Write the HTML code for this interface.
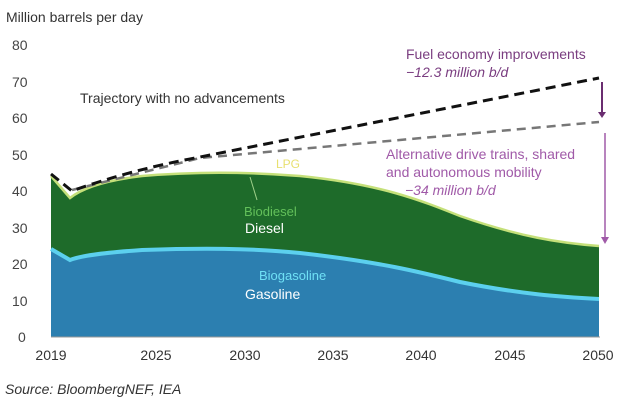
<!DOCTYPE html><html><head><style>body{margin:0;background:#fff}svg{font-family:"Liberation Sans",sans-serif}</style></head><body>
<svg width="625" height="407" viewBox="0 0 625 407">
<text x="6" y="22" font-size="14" fill="#333">Million barrels per day</text>
<g font-size="14" fill="#444" text-anchor="start">
<text x="12" y="50">80</text><text x="12" y="87">70</text><text x="12" y="123">60</text><text x="12" y="160">50</text><text x="12" y="196">40</text><text x="12" y="233">30</text><text x="12" y="269">20</text><text x="12" y="306">10</text><text x="18" y="342">0</text></g>
<path d="M51,176 L70,198 C80,190 100,181 142,176 C200,171 250,172 300,176 C380,184 420,200 460,216 C520,237 560,243 599,246 L599,337 L51,337Z" fill="#1e6b2a"/>
<path d="M51,176 L70,198 C80,190 100,181 142,176 C200,171 250,172 300,176 C380,184 420,200 460,216 C520,237 560,243 599,246" fill="none" stroke="#c5e07a" stroke-width="2.5"/>
<path d="M51,249 L70,260 C80,256 100,253 142,250 C200,248 250,248 300,253 C380,262 420,272 460,282 C520,294 560,297 599,299 L599,337 L51,337Z" fill="#2c7fb0"/>
<path d="M51,249 L70,260 C80,256 100,253 142,250 C200,248 250,248 300,253 C380,262 420,272 460,282 C520,294 560,297 599,299" fill="none" stroke="#5cd0ee" stroke-width="4"/>
<line x1="51" y1="337" x2="600" y2="337" stroke="#999"/>
<path d="M72,190 L200,158 L599,122" fill="none" stroke="#777" stroke-width="2.5" stroke-dasharray="9,6"/>
<path d="M51,174 L72,191 Q130,170 200,157 L599,78" fill="none" stroke="#111" stroke-width="3" stroke-dasharray="10,6"/>
<g font-size="14" fill="#333" text-anchor="middle"><text x="51" y="360">2019</text><text x="156" y="360">2025</text><text x="245" y="360">2030</text><text x="333" y="360">2035</text><text x="421" y="360">2040</text><text x="510" y="360">2045</text><text x="598" y="360">2050</text></g>
<text x="80" y="103" font-size="14" fill="#333">Trajectory with no advancements</text>
<text x="406" y="59" font-size="14" fill="#7a3d80">Fuel economy improvements</text>
<text x="406" y="77" font-size="14" fill="#7a3d80" font-style="italic">−12.3 million b/d</text>
<text x="386" y="159" font-size="14" fill="#a05aa8">Alternative drive trains, shared</text>
<text x="386" y="177" font-size="14" fill="#a05aa8">and autonomous mobility</text>
<text x="405" y="195" font-size="14" fill="#a05aa8" font-style="italic">−34 million b/d</text>
<line x1="602" y1="82" x2="602" y2="113" stroke="#6a2d70" stroke-width="2"/><path d="M598,112 L606,112 L602,118Z" fill="#6a2d70"/>
<line x1="605" y1="133" x2="605" y2="238" stroke="#a05aa8" stroke-width="1.5"/><path d="M601,237 L609,237 L605,244Z" fill="#a05aa8"/>
<text x="276" y="168" font-size="12" fill="#e8e070">LPG</text>
<line x1="250" y1="177" x2="257" y2="200" stroke="#9fd08a" stroke-width="1"/>
<text x="244" y="216" font-size="13" fill="#63c05a">Biodiesel</text>
<text x="245" y="233" font-size="14" fill="#fff">Diesel</text>
<text x="259" y="280" font-size="13" fill="#6fe0f5">Biogasoline</text>
<text x="245" y="299" font-size="14" fill="#fff">Gasoline</text>
<text x="5" y="394" font-size="14" fill="#333" font-style="italic">Source: BloombergNEF, IEA</text>
</svg></body></html>
